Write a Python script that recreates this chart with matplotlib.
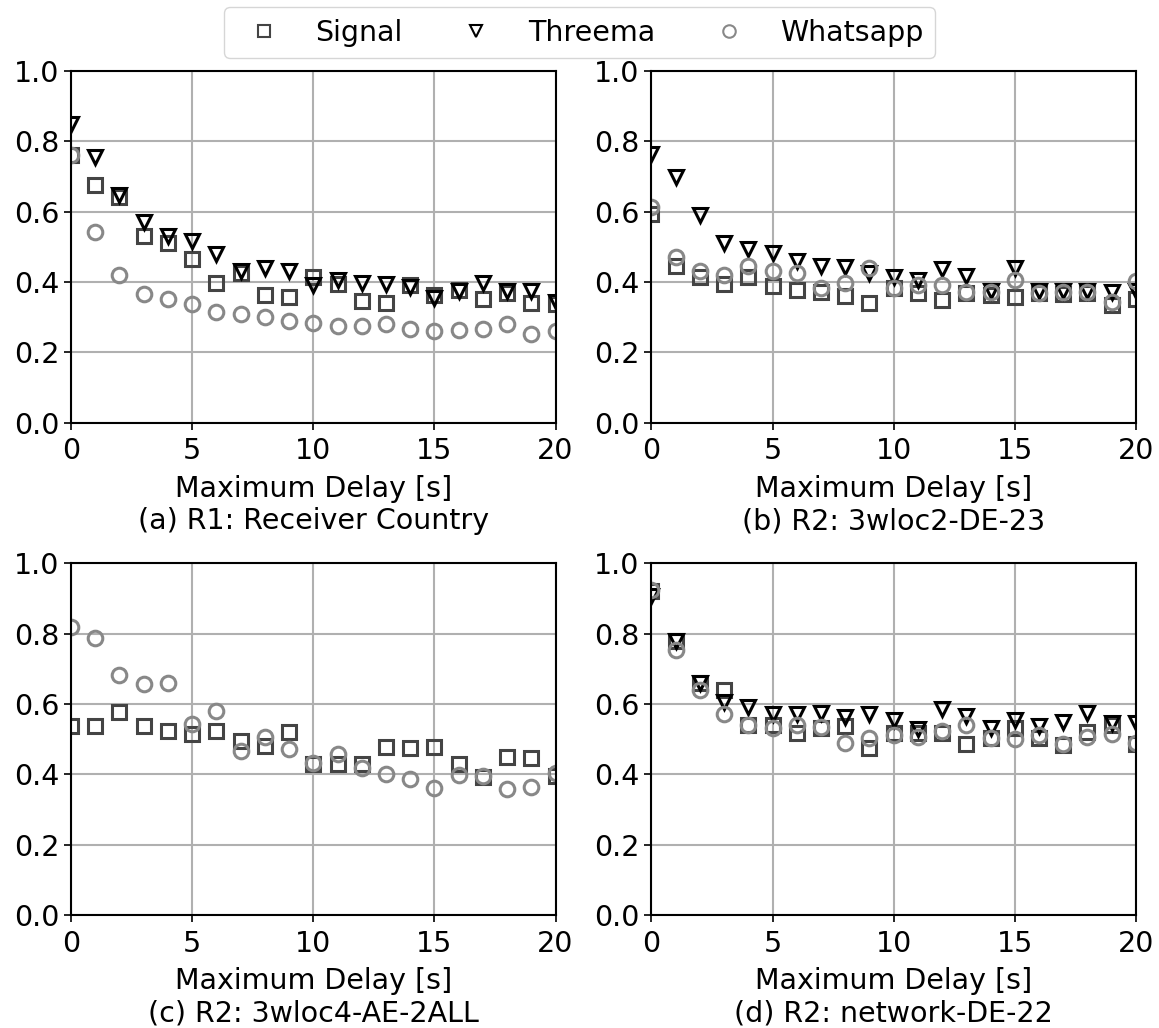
import numpy as np
import matplotlib.pyplot as plt
from matplotlib.lines import Line2D

delay = np.arange(21)

# (a) R1: Receiver Country
a_signal = [0.76, 0.675, 0.64, 0.53, 0.51, 0.466, 0.398, 0.424, 0.362, 0.357, 0.414,
            0.395, 0.345, 0.34, 0.39, 0.364, 0.376, 0.35, 0.369, 0.34, 0.338]
a_threema = [0.85, 0.756, 0.646, 0.57, 0.53, 0.515, 0.48, 0.43, 0.44, 0.43, 0.39,
             0.405, 0.397, 0.395, 0.386, 0.353, 0.374, 0.397, 0.374, 0.374, 0.343]
a_whatsapp = [0.76, 0.542, 0.419, 0.365, 0.35, 0.336, 0.313, 0.308, 0.299, 0.288, 0.283,
              0.275, 0.275, 0.279, 0.267, 0.26, 0.264, 0.267, 0.279, 0.253, 0.26]

# (b) R2: 3wloc2-DE-23
b_signal = [0.592, 0.446, 0.415, 0.395, 0.415, 0.389, 0.376, 0.371, 0.36, 0.339, 0.384,
            0.368, 0.348, 0.367, 0.363, 0.357, 0.367, 0.365, 0.368, 0.334, 0.352]
b_threema = [0.763, 0.698, 0.59, 0.512, 0.493, 0.481, 0.46, 0.446, 0.443, 0.425, 0.415,
             0.406, 0.438, 0.417, 0.374, 0.44, 0.374, 0.374, 0.374, 0.372, 0.374]
b_whatsapp = [0.613, 0.472, 0.432, 0.42, 0.446, 0.432, 0.424, 0.384, 0.398, 0.44, 0.384,
              0.392, 0.39, 0.371, 0.371, 0.406, 0.368, 0.37, 0.37, 0.343, 0.403]

# (c) R2: 3wloc4-AE-2ALL (no Threema)
c_signal = [0.536, 0.536, 0.577, 0.536, 0.523, 0.514, 0.523, 0.495, 0.48, 0.52, 0.43,
            0.43, 0.428, 0.479, 0.476, 0.479, 0.428, 0.392, 0.449, 0.445, 0.395]
c_whatsapp = [0.82, 0.789, 0.682, 0.656, 0.659, 0.544, 0.58, 0.466, 0.506, 0.471, 0.433,
              0.457, 0.419, 0.4, 0.386, 0.362, 0.397, 0.395, 0.359, 0.365, 0.403]

# (d) R2: network-DE-22
d_signal = [0.92, 0.779, 0.66, 0.64, 0.541, 0.539, 0.517, 0.533, 0.536, 0.476, 0.517,
            0.517, 0.517, 0.486, 0.503, 0.531, 0.503, 0.484, 0.519, 0.541, 0.486]
d_threema = [0.906, 0.78, 0.66, 0.605, 0.59, 0.571, 0.571, 0.574, 0.562, 0.571, 0.555,
             0.53, 0.586, 0.565, 0.531, 0.555, 0.536, 0.55, 0.574, 0.546, 0.546]
d_whatsapp = [0.925, 0.753, 0.641, 0.572, 0.541, 0.531, 0.541, 0.535, 0.49, 0.503, 0.512,
              0.505, 0.522, 0.539, 0.503, 0.5, 0.512, 0.486, 0.505, 0.514, 0.49]

captions = ['(a) R1: Receiver Country', '(b) R2: 3wloc2-DE-23',
            '(c) R2: 3wloc4-AE-2ALL', '(d) R2: network-DE-22']
panels = [(a_signal, a_threema, a_whatsapp),
          (b_signal, b_threema, b_whatsapp),
          (c_signal, None, c_whatsapp),
          (d_signal, d_threema, d_whatsapp)]

names = ['Signal', 'Threema', 'Whatsapp']
markers = ['s', 'v', 'o']
colors = ['#444444', 'black', '#888888']

plt.rcParams['font.size'] = 20.5

fig = plt.figure(figsize=(11.59, 10.28), dpi=100)
positions = [(0.0613, 0.589, 0.418, 0.342), (0.5621, 0.589, 0.418, 0.342),
             (0.0613, 0.110, 0.418, 0.342), (0.5621, 0.110, 0.418, 0.342)]

for i, (pos, series) in enumerate(zip(positions, panels)):
    ax = fig.add_axes(pos)
    ax.grid(True, color='#b0b0b0', linewidth=1.5)
    ax.set_axisbelow(True)
    for vals, m, c, n in zip(series, markers, colors, names):
        if vals is None:
            continue
        ax.plot(delay, vals, m, mfc='none', mec=c, ms=10.5, mew=2.2, label=n)
    ax.set_xlim(0, 20)
    ax.set_ylim(0, 1.0)
    ax.set_xticks([0, 5, 10, 15, 20])
    ax.set_yticks([0.0, 0.2, 0.4, 0.6, 0.8, 1.0])
    ax.tick_params(length=5, width=1.2)
    ax.tick_params(axis='x', pad=5.5)
    for sp in ax.spines.values():
        sp.set_linewidth(1.5)
    ax.set_xlabel('Maximum Delay [s]\n' + captions[i], labelpad=7)

# legend proxies with slightly smaller, thinner markers
proxies = [Line2D([], [], linestyle='none', marker=m, mfc='none', mec=c, ms=9, mew=1.5)
           for m, c in zip(markers, colors)]
fig.legend(proxies, names, loc='upper center', bbox_to_anchor=(0.5, 1.0), ncol=3,
           borderaxespad=0.25, columnspacing=1.6)

fig.savefig('out.png', dpi=100)
